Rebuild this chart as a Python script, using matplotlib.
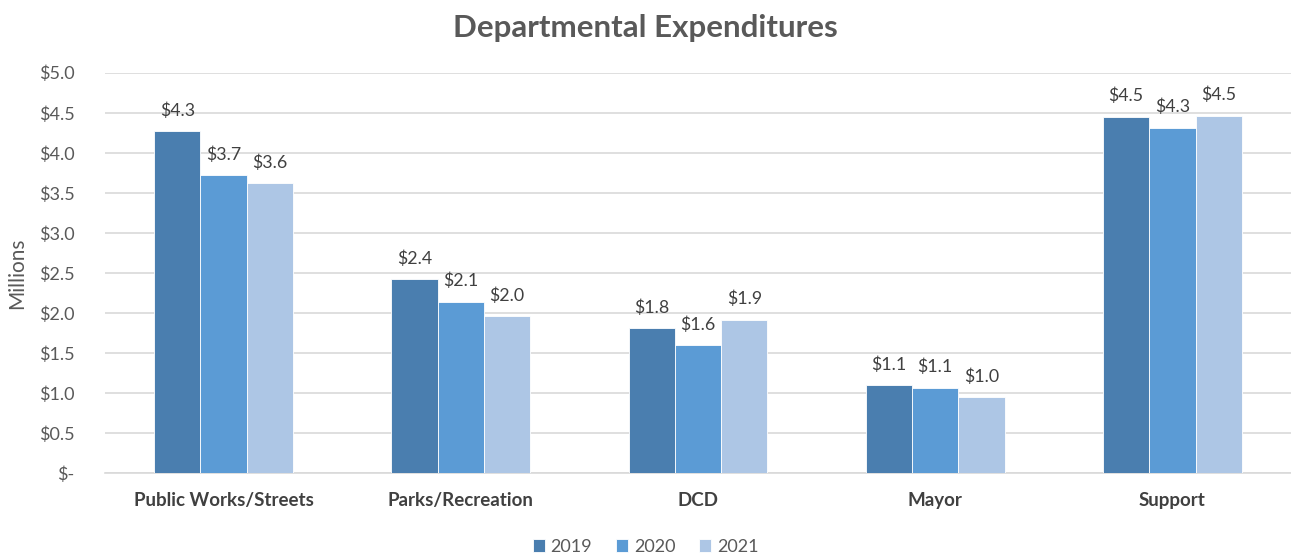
import matplotlib
matplotlib.use("Agg")
import matplotlib.pyplot as plt
import numpy as np
from decimal import Decimal, ROUND_HALF_UP

categories = ["Public Works/Streets", "Parks/Recreation", "DCD", "Mayor", "Support"]
years = ["2019", "2020", "2021"]
values_2019 = [4.27, 2.42, 1.81, 1.10, 4.45]
values_2020 = [3.72, 2.14, 1.60, 1.07, 4.31]
values_2021 = [3.62, 1.96, 1.92, 0.95, 4.46]
colors = ["#4a7eaf", "#5b9bd5", "#adc6e5"]
yticks = [0.0, 0.5, 1.0, 1.5, 2.0, 2.5, 3.0, 3.5, 4.0, 4.5, 5.0]

TEXT = "#595959"
plt.rcParams["font.family"] = ["Lato", "DejaVu Sans"]


def money(v):
    if v == 0:
        return "$-"
    d = Decimal(str(v)).quantize(Decimal("0.1"), rounding=ROUND_HALF_UP)
    return f"${d}"


fig = plt.figure(figsize=(12.91, 5.57), dpi=100)
ax = fig.add_axes([0.0813, 0.150, 0.9187, 0.7195])

x = np.arange(len(categories))
width = 0.195
series = [values_2019, values_2020, values_2021]
for i, (vals, year, col) in enumerate(zip(series, years, colors)):
    pos = x + (i - 1) * width
    bars = ax.bar(pos, vals, width, color=col, label=year,
                  edgecolor="white", linewidth=0.6, zorder=3)
    for b, v in zip(bars, vals):
        ax.annotate(money(v), (b.get_x() + b.get_width() / 2, v),
                    xytext=(0, 9), textcoords="offset points",
                    ha="center", va="bottom", fontsize=12.8, color="#404040")

ax.set_xlim(-0.5, len(categories) - 0.5)
ax.set_ylim(0, 5.0)
ax.set_yticks(yticks)
ax.set_yticklabels([money(v) for v in yticks], fontsize=13, color=TEXT)
ax.set_xticks(x)
ax.set_xticklabels(categories, fontsize=13.5, fontweight="bold", color="#404040")
ax.tick_params(axis="both", length=0)
ax.tick_params(axis="y", pad=22)
ax.tick_params(axis="x", pad=13)
ax.grid(axis="y", color="#d9d9d9", linewidth=1.2, zorder=0)
for s in ["top", "right", "left"]:
    ax.spines[s].set_visible(False)
ax.spines["bottom"].set_color("#d9d9d9")
ax.spines["bottom"].set_linewidth(1.2)

ax.set_ylabel("Millions", fontsize=15, color=TEXT, labelpad=8)
fig.suptitle("Departmental Expenditures", x=0.5, y=0.975, fontsize=22.5,
             fontweight="bold", color=TEXT)

leg = fig.legend(loc="lower center", bbox_to_anchor=(0.5, -0.025), ncol=3,
                 frameon=False, fontsize=13, handlelength=0.7,
                 handleheight=0.7, handletextpad=0.3, columnspacing=1.3)
for t in leg.get_texts():
    t.set_color(TEXT)

fig.savefig("out.png", dpi=100)
